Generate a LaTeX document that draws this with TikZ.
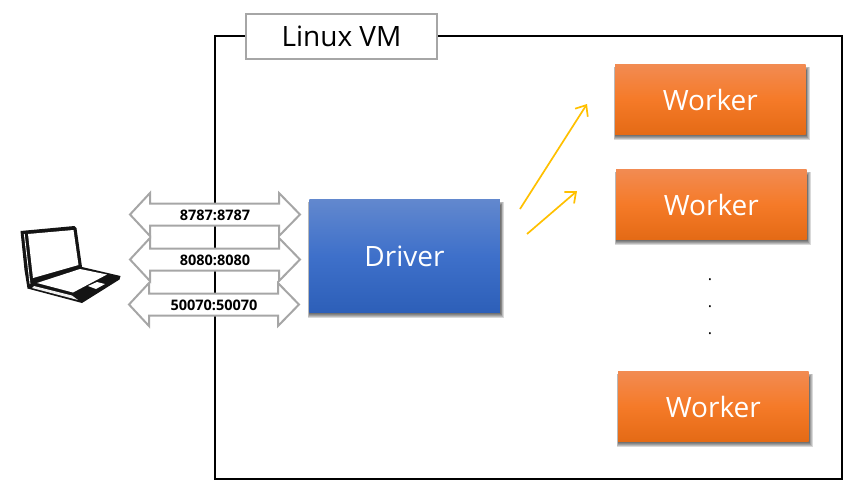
\documentclass[tikz,border=0pt]{standalone}
\usepackage{fontspec}
\setmainfont{Open Sans}
\usetikzlibrary{arrows.meta,calc}
\definecolor{frameC}{HTML}{A6A6A6}
\definecolor{arrC}{HTML}{FFC000}
\definecolor{orangeT}{HTML}{F28B52}
\definecolor{orangeM}{HTML}{F57A28}
\definecolor{orangeB}{HTML}{E46A15}
\definecolor{blueT}{HTML}{6288CE}
\definecolor{blueM}{HTML}{3E70CA}
\definecolor{blueB}{HTML}{2D5FB8}
\tikzset{
  worker/.style={minimum width=190.5pt,minimum height=70.5pt,inner sep=0pt,text=white,font=\fontsize{28}{32}\selectfont,
    top color=orangeT,bottom color=orangeB,middle color=orangeM},
  driver/.style={minimum width=190.5pt,minimum height=113.5pt,inner sep=0pt,text=white,font=\fontsize{28}{32}\selectfont,
    top color=blueT,bottom color=blueB,middle color=blueM},
  portarrow/.style={draw=frameC,line width=2pt,fill=white},
  portlabel/.style={font=\bfseries\fontsize{14.5}{16}\selectfont,inner sep=0pt},
  flow/.style={draw=arrC,line width=1.7pt,-{Straight Barb[length=9pt,width=15pt,line width=1.7pt]}},
  dotlabel/.style={font=\fontsize{16}{18}\selectfont,inner sep=0pt},
  shadowlayer/.style={fill=black,opacity=.15}
}
\newcommand{\portarrow}[2]{% left tip x, center y
  \draw[portarrow] (#1,#2) -- ++(20,-21.5) -- ++(0,10.5) -- ++(129,0) -- ++(0,-10.5) -- ++(21,21.5)
    -- ++(-21,21.5) -- ++(0,-10.5) -- ++(-129,0) -- ++(0,10.5) -- cycle;
}
\newcommand{\softshadow}[4]{% x0,y0,x1,y1 of the box
  \foreach \s in {3.6,2.8,2,1.2,0.4}{
    \fill[shadowlayer] ({#1+0.4-0.4*\s},{#2+6-\s}) rectangle ({#3+0.5+\s},{#4+1.2+\s});
  }
}
\begin{document}
\begin{tikzpicture}[x=1pt,y=-1pt]
\useasboundingbox (0,0) rectangle (867,491);
\draw[line width=2pt] (215,36) rectangle (842,479);
\node[draw=frameC,line width=2pt,fill=white,minimum width=191pt,minimum height=45pt,inner sep=0pt,font=\fontsize{28}{32}\selectfont] (vm) at (341.5,36) {Linux VM};
\softshadow{309.2}{199.2}{499.8}{312.8}
\softshadow{615}{64.2}{805.6}{134.8}
\softshadow{616}{169.2}{806.6}{239.8}
\softshadow{618}{371.2}{808.6}{441.8}
\node[driver] (driver) at (404.5,256) {Driver};
\node[worker] (w1) at (710.3,99.5) {Worker};
\node[worker] (w2) at (711.3,204.5) {Worker};
\node[worker] (w3) at (713.3,406.5) {Worker};
\coordinate (a1s) at (520,209); \coordinate (a1e) at (587,104);
\coordinate (a2s) at (527,234); \coordinate (a2e) at (577,191);
\draw[flow] (a1s) -- (a1e);
\draw[flow] (a2s) -- (a2e);
\node[dotlabel] (d1) at (710,280) {.};
\node[dotlabel] (d2) at (710,307) {.};
\node[dotlabel] (d3) at (710,334) {.};
\portarrow{130}{214.5}
\portarrow{130}{259.5}
\portarrow{129}{304.5}
\node[portlabel] (p1) at (215,215) {8787:8787};
\node[portlabel] (p2) at (215,260) {8080:8080};
\node[portlabel] (p3) at (214,305) {50070:50070};
% laptop
\fill[black!92] (20.5,231) -- (74.5,226) -- (76.5,228) -- (82,267) -- (120.5,276) -- (119.5,279.5) -- (82,303) -- (27.5,288.5) -- (24.5,270) -- cycle;
\fill[white] (28,234) -- (73.5,230) -- (78.5,265) -- (33,278) -- cycle;
\fill[white] (37,283) -- (80,269) -- (107,274.5) -- (73,292.5) -- cycle;
\fill[gray!12] (34,286) -- (72,295.5) -- (78,300) -- (32,288) -- cycle;
\fill[white] (88,286) -- (97,282) -- (105,284) -- (96,289) -- cycle;
\draw[white,line width=.8pt] (24.3,234) -- (30,284);
\end{tikzpicture}
\end{document}
